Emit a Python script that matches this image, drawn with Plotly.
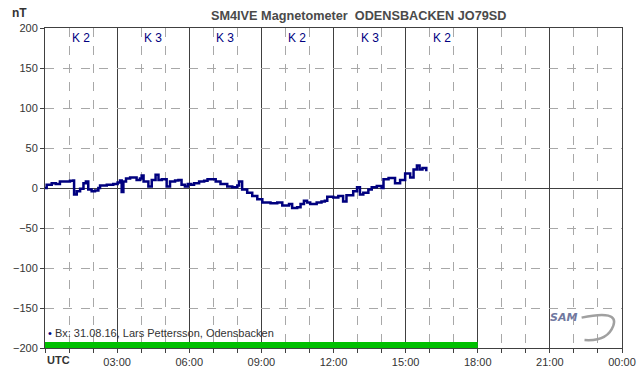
import plotly.graph_objects as go

# ---- data ----
hours = [0.0, 0.07, 0.28, 0.45, 0.62, 0.85, 1.04, 1.18, 1.21, 1.32, 1.46, 1.6, 1.7, 1.8, 1.94, 2.08,
         2.22, 2.29, 2.57, 2.84, 3.02, 3.12, 3.19, 3.26, 3.37, 3.54, 3.81, 3.95, 4.02, 4.1, 4.3,
         4.44, 4.6, 4.72, 4.86, 5.06, 5.2, 5.41, 5.55, 5.68, 5.82, 5.94, 6.07, 6.2, 6.41, 6.62,
         6.76, 6.96, 7.1, 7.3, 7.58, 7.79, 8.0, 8.07, 8.2, 8.41, 8.62, 8.83, 9.04, 9.38, 9.66,
         9.87, 10.15, 10.28, 10.49, 10.63, 10.77, 10.9, 11.03, 11.3, 11.5, 11.64, 11.74, 11.99,
         12.2, 12.4, 12.54, 12.82, 12.98, 13.1, 13.24, 13.45, 13.59, 13.8, 14.0, 14.08, 14.29,
         14.56, 14.77, 14.98, 15.19, 15.33, 15.47, 15.58, 15.7, 15.86]
bx = [0, 4, 6, 5, 8, 8, 9, 9.5, -8, -4, -1, 6, 8, -2, -4, -3,
      0, 3, 4, 5, 7, 9.5, -5, 8, 12, 13, 10, 12, 15.5, 8, 2,
      10, 16.6, 10, 11, 2, 8, 9.5, 10, 4, 2, 5, 4, 6, 8, 9,
      11, 11, 8, 5, 2, 1, 3, 8, -2, -6, -10, -14, -18, -19, -18,
      -22, -20, -25, -24, -20, -16, -18, -20, -18, -17, -16, -11, -12,
      -10, -17, -9, -4, 1, -8, -6, -2, 1, 2.6, 0, 11, 12.5,
      6, 10, 18, 13, 23, 28, 23, 25, 21]

k_hours = [1.5, 4.5, 7.5, 10.5, 13.5, 16.5]
k_labels = ["K 2", "K 3", "K 3", "K 2", "K 3", "K 2"]

x_tickvals = [0, 3, 6, 9, 12, 15, 18, 21, 24]
x_ticktext = ["", "03:00", "06:00", "09:00", "12:00", "15:00", "18:00", "21:00", "00:00"]
y_tickvals = [-200, -150, -100, -50, 0, 50, 100, 150, 200]

coverage_start = 0
coverage_end = 18

NAVY = "#00007f"
DARK = "#404040"
GRID = "#a8a8a8"
FONT = "Liberation Sans, Arial, sans-serif"

fig = go.Figure()

# coverage bar (green) along the bottom
fig.add_shape(type="rect", xref="x", yref="y", x0=coverage_start, x1=coverage_end,
              y0=-200, y1=-192.5, fillcolor="#00c000", line_width=0, layer="above")

fig.add_trace(go.Scatter(x=hours, y=bx, mode="lines",
                         line=dict(color=NAVY, width=2.5, shape="hv"),
                         hoverinfo="skip", showlegend=False))

for h, k in zip(k_hours, k_labels):
    fig.add_annotation(x=h, y=1, xref="x", yref="paper", yanchor="top", yshift=-1,
                       text=k, showarrow=False, font=dict(family=FONT, size=12, color=NAVY))

fig.update_layout(
    width=642, height=376,
    margin=dict(l=45, r=20, t=28, b=28, autoexpand=False),
    paper_bgcolor="white", plot_bgcolor="white",
    font=dict(family=FONT, size=11, color="#333333"),
    xaxis=dict(range=[0, 24], tickvals=x_tickvals, ticktext=x_ticktext, automargin=False,
               showgrid=True, gridcolor=DARK, gridwidth=1,
               showline=True, linecolor=DARK, linewidth=1, mirror=True,
               ticks="outside", ticklen=4, tickcolor=DARK, zeroline=False,
               tickfont=dict(family=FONT, size=11, color="#333333"),
               minor=dict(dtick=1, tick0=0, showgrid=True, gridcolor=GRID, griddash="dash",
                          gridwidth=1, ticks="outside", ticklen=4, tickcolor=DARK)),
    yaxis=dict(range=[-200, 200], tickvals=y_tickvals, automargin=False,
               showgrid=True, gridcolor=GRID, griddash="dash", gridwidth=1,
               zeroline=True, zerolinecolor=DARK, zerolinewidth=1,
               showline=True, linecolor=DARK, linewidth=1, mirror=True,
               ticks="outside", ticklen=4, tickcolor=DARK,
               tickfont=dict(family=FONT, size=11, color="#333333")),
)

# title and axis unit
fig.add_annotation(x=(358 - 45) / 577, y=1, xref="paper", yref="paper", yanchor="bottom",
                   yshift=3, text="<b>SM4IVE Magnetometer&nbsp;&nbsp;ODENSBACKEN JO79SD</b>",
                   showarrow=False, font=dict(family=FONT, size=12.7, color="#4a4a4a"))
fig.add_annotation(x=0, y=1, xref="paper", yref="paper", xanchor="right", yanchor="bottom",
                   xshift=-16, yshift=6, text="<b>nT</b>", showarrow=False,
                   font=dict(family=FONT, size=12, color="#333333"))
fig.add_annotation(x=0, y=0, xref="paper", yref="paper", xanchor="left", yanchor="top",
                   yshift=-4, text="<b>UTC</b>", showarrow=False,
                   font=dict(family=FONT, size=11, color="#333333"))
fig.add_annotation(x=0, y=0, xref="paper", yref="paper", xanchor="left", yanchor="bottom",
                   xshift=1, yshift=7,
                   text="<span style='color:#00007f'>•</span> Bx: 31.08.16, Lars Pettersson, Odensbacken",
                   showarrow=False, font=dict(family=FONT, size=11, color="#333333"))

# SAM logo (approximate): swoosh + italic letters
fig.add_shape(type="path", xref="paper", yref="paper",
              path="M 0.93,0.095 Q 0.995,0.12 0.985,0.07 Q 0.975,0.02 0.935,0.025",
              line=dict(color="#a0a0a0", width=2.5))
fig.add_annotation(x=(579 - 45) / 577, y=(348 - 326) / 320, xref="paper", yref="paper",
                   text="<i><b>SAM</b></i>", showarrow=False,
                   font=dict(family="DejaVu Sans", size=11, color="#7078a0"))

fig.write_html("out.html", config={"displayModeBar": False},
               post_script="document.body.style.margin='0';")
